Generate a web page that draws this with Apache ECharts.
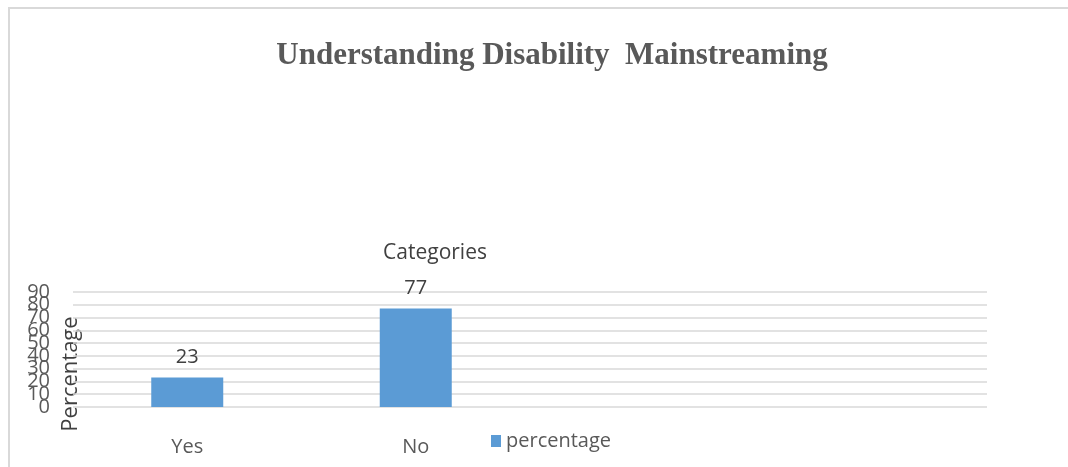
<!DOCTYPE html>
<html>
<head>
<meta charset="utf-8">
<script src="https://cdn.jsdelivr.net/npm/echarts@6/dist/echarts.min.js"></script>
<style>html,body{margin:0;padding:0;background:#fff;}#c{width:1068px;height:467px;}</style>
</head>
<body>
<div id="c"></div>
<script>
const titleText = 'Understanding Disability  Mainstreaming';
const xAxisTitle = 'Categories';
const yAxisTitle = 'Percentage';
const seriesName = 'percentage';
const categories = ['Yes', 'No', '', ''];
const values = [23, 77, null, null];
const yTicks = { min: 0, max: 90, interval: 10 };
const secondPassTicks = [10, 80]; // ticks dropped by overlap handling, drawn by a twin axis

const chart = echarts.init(document.getElementById('c'), null, { renderer: 'canvas' });
const font = '"Open Sans", "Noto Sans", sans-serif';
const yLabelBase = { interval: 0, margin: 23, fontFamily: font, fontSize: 20, color: '#595959', hideOverlap: false };
chart.setOption({
  animation: false,
  backgroundColor: '#ffffff',
  title: {
    text: titleText,
    left: 547,
    top: 35,
    textAlign: 'center',
    textStyle: { fontFamily: '"Liberation Serif", "Times New Roman", serif', fontWeight: 'bold', fontSize: 31, color: '#595959' }
  },
  legend: {
    data: [seriesName],
    left: 486,
    top: 426,
    itemWidth: 10,
    itemHeight: 12,
    itemGap: 6,
    icon: 'rect',
    textStyle: { fontFamily: font, fontSize: 20, color: '#595959' }
  },
  grid: { left: 73, right: 81, top: 292, bottom: 60, containLabel: false },
  xAxis: {
    type: 'category',
    data: categories,
    axisLine: { show: false },
    axisTick: { show: false },
    axisLabel: { margin: 30, fontFamily: font, fontSize: 20, color: '#595959' }
  },
  yAxis: [{
    type: 'value',
    min: yTicks.min,
    max: yTicks.max,
    interval: yTicks.interval,
    axisLine: { show: false },
    axisTick: { show: false },
    axisLabel: Object.assign({ showMinLabel: true, showMaxLabel: true }, yLabelBase),
    splitLine: { lineStyle: { color: '#d9d9d9', width: 1.5 } }
  }, {
    type: 'value',
    position: 'left',
    min: yTicks.min,
    max: yTicks.max,
    interval: yTicks.interval,
    axisLine: { show: false },
    axisTick: { show: false },
    splitLine: { show: false },
    axisLabel: Object.assign({}, yLabelBase, { formatter: v => secondPassTicks.indexOf(v) >= 0 ? String(v) : '' })
  }],
  series: [{
    name: seriesName,
    type: 'bar',
    data: values,
    barWidth: 72,
    itemStyle: { color: '#5b9bd5' },
    label: { show: true, position: 'top', distance: 10, fontFamily: font, fontSize: 20, color: '#404040' }
  }],
  graphic: [
    { type: 'rect', shape: { x: 9, y: 8, width: 1200, height: 600 }, style: { fill: 'none', stroke: '#d9d9d9', lineWidth: 2 }, silent: true },
    { type: 'text', x: 435, y: 253, style: { text: xAxisTitle, textAlign: 'center', textVerticalAlign: 'middle', font: '21px ' + font, fill: '#404040' } },
    { type: 'text', x: 71, y: 374, rotation: Math.PI / 2, style: { text: yAxisTitle, textAlign: 'center', textVerticalAlign: 'middle', font: '22px ' + font, fill: '#404040' } }
  ]
});
</script>
</body>
</html>
